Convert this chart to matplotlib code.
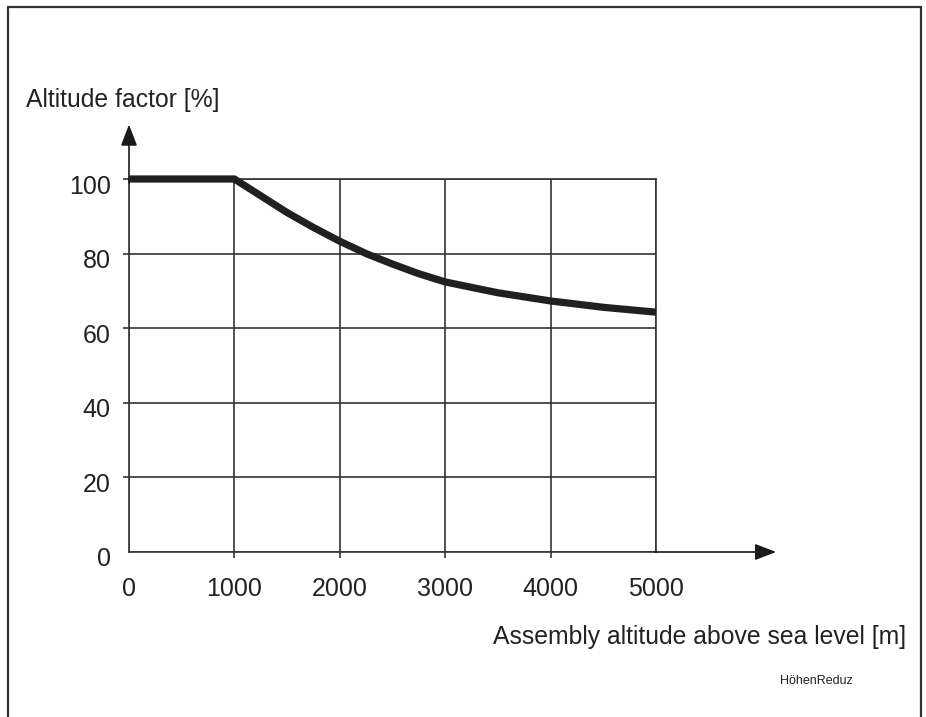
import matplotlib
matplotlib.use("Agg")
import matplotlib.pyplot as plt
from matplotlib.patches import Rectangle
from matplotlib.transforms import ScaledTranslation

plt.rcParams['font.family'] = ['Liberation Sans', 'DejaVu Sans']

# Data
altitude_m = [0, 1000, 1250, 1500, 1750, 2000, 2250, 2500, 2750, 3000, 3500, 4000, 4500, 5000]
factor_pct = [100, 100, 95.5, 91.0, 87.0, 83.3, 80.0, 77.2, 74.6, 72.4, 69.5, 67.3, 65.6, 64.3]
x_ticks = [0, 1000, 2000, 3000, 4000, 5000]
y_ticks = [0, 20, 40, 60, 80, 100]
x_label = "Assembly altitude above sea level [m]"
y_label = "Altitude factor [%]"
tag = "HöhenReduz"

W, H = 926, 717
fig = plt.figure(figsize=(W / 100, H / 100), dpi=100)

# axes placement in pixels
x0, x1 = 129, 656
y0, y1 = 552, 179
ax = fig.add_axes([x0 / W, 1 - y0 / H, (x1 - x0) / W, (y0 - y1) / H])
ax.set_xlim(0, 5000)
ax.set_ylim(0, 100)

gc = '#333333'
tc = '#222222'
for s in ax.spines.values():
    s.set_color(gc)
    s.set_linewidth(1.2)

ax.set_xticks(x_ticks)
ax.set_yticks(y_ticks)
ax.set_xticklabels([str(v) for v in x_ticks])
ax.set_yticklabels([str(v) for v in y_ticks])
ax.tick_params(axis='both', direction='out', length=4, width=1.2, color=gc,
               labelsize=18, labelcolor=tc)
ax.tick_params(axis='x', pad=14)
ax.tick_params(axis='y', pad=9.2)
ax.xaxis.get_major_ticks()[0].tick1line.set_visible(False)
ax.xaxis.get_major_ticks()[-1].tick1line.set_visible(False)
ax.yaxis.get_major_ticks()[0].tick1line.set_visible(False)
ax.grid(True, color=gc, linewidth=1.2)

# y tick labels sit slightly below their grid lines in the reference
off = ScaledTranslation(0, -5 / 100, fig.dpi_scale_trans)
for lab in ax.get_yticklabels():
    lab.set_transform(lab.get_transform() + off)

ax.plot(altitude_m, factor_pct, color='#231f20', linewidth=5.2,
        solid_capstyle='butt', solid_joinstyle='round', clip_on=False, zorder=5)

# axis arrows
ax.annotate('', xy=(6140, 0), xytext=(4990, 0),
            arrowprops=dict(arrowstyle='-|>,head_length=1.3,head_width=0.5',
                            color='#1a1a1a', lw=1.2, shrinkA=0, shrinkB=0),
            annotation_clip=False)
ax.annotate('', xy=(0, 114.6), xytext=(0, 99),
            arrowprops=dict(arrowstyle='-|>,head_length=1.3,head_width=0.5',
                            color='#1a1a1a', lw=1.2, shrinkA=0, shrinkB=0),
            annotation_clip=False)

fig.text(26 / W, 1 - 100 / H, y_label, fontsize=17.8, color=tc,
         ha='left', va='center')
fig.text(906 / W, 1 - 637 / H, x_label, fontsize=17.8, color=tc,
         ha='right', va='center')
fig.text(853 / W, 1 - 681 / H, tag, fontsize=9, color=tc,
         ha='right', va='center')

# frame
frame = Rectangle((8 / W, -0.05), (921 - 8) / W, 1 - 7 / H + 0.05,
                  transform=fig.transFigure, fill=False, edgecolor='#333333',
                  linewidth=1.6, clip_on=False)
fig.patches.append(frame)

fig.savefig('out.png', dpi=100)
